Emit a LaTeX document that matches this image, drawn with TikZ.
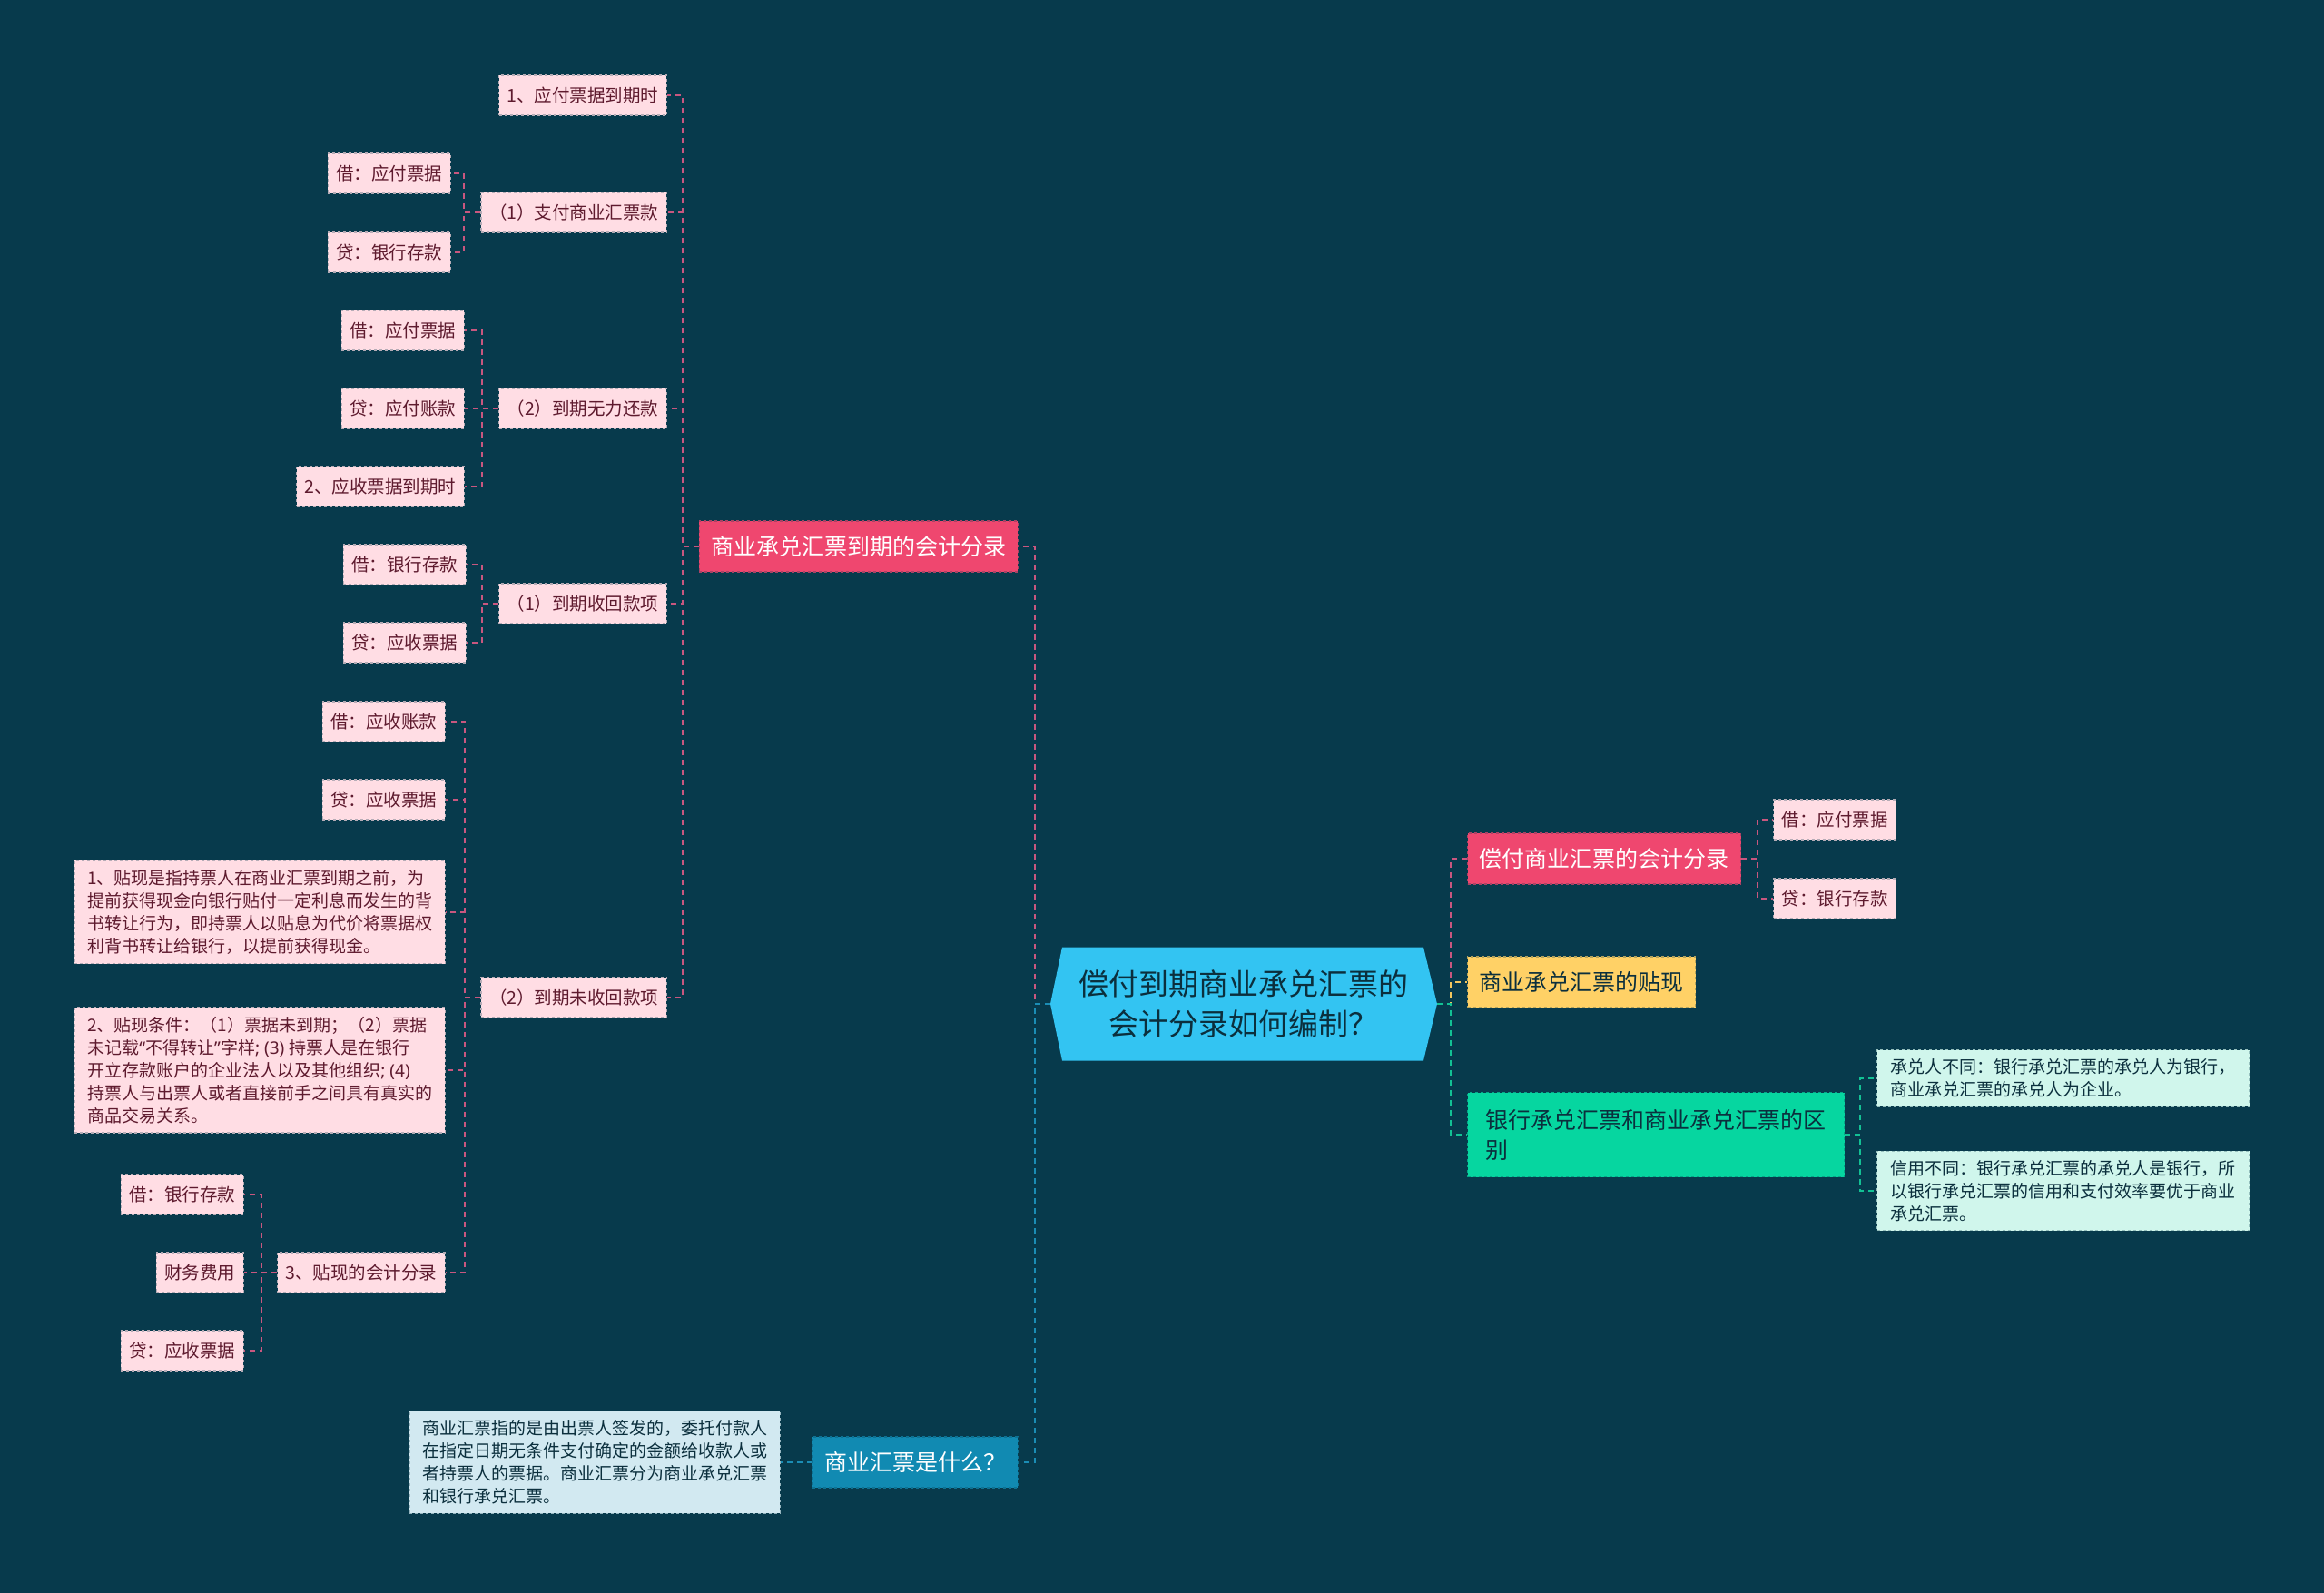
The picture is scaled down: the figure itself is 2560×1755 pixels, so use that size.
\documentclass[tikz,border=0pt]{standalone}
\usepackage{fontspec}
\setmainfont{Noto Sans CJK SC}
\newfontfamily\latf{Noto Sans}
\usepackage{tikz}
\usetikzlibrary{calc}
\definecolor{bgc}{HTML}{073A4C}
\definecolor{redc}{HTML}{EF476F}
\definecolor{yelc}{HTML}{FFD166}
\definecolor{grnc}{HTML}{06D6A0}
\definecolor{bluc}{HTML}{118AB2}
\definecolor{rootc}{HTML}{33C4F2}
\definecolor{leafc}{HTML}{FFDDE4}
\definecolor{mintc}{HTML}{D0F6EC}
\definecolor{palec}{HTML}{D2E9F1}
\definecolor{leaft}{HTML}{5E1A2E}
\definecolor{darkt}{HTML}{0B2F3D}
\definecolor{pkl}{HTML}{C9577F}
\definecolor{bll}{HTML}{1B8DB5}
\definecolor{grl}{HTML}{12C194}
\definecolor{yll}{HTML}{F2C65E}
\tikzset{
  lk/.style={line width=2pt,dash pattern=on 6pt off 5pt},
  bx/.style={rectangle,fill=#1,draw=#1!70!bgc,dashed,line width=1.2pt},
  leaf/.style={bx=leafc,text=leaft,inner xsep=9pt,inner ysep=0pt,minimum height=44pt,font=\fontsize{19.5}{25}\selectfont},
  para/.style={bx=leafc,text=leaft,inner xsep=10pt,inner ysep=10pt,align=left,minimum width=408pt,font=\fontsize{19}{25}\selectfont},
  tp/.style={bx=#1,inner xsep=13pt,inner ysep=0pt,minimum height=56pt,font=\fontsize{25}{33}\selectfont},
  root/.style={minimum width=426pt,minimum height=125pt,inner sep=0pt,fill=bgc,align=center,text=darkt,
    font=\fontsize{33}{44}\selectfont,
    path picture={\fill[rootc] (path picture bounding box.west) -- ([xshift=13pt]path picture bounding box.north west)
      -- ([xshift=-15pt]path picture bounding box.north east) -- (path picture bounding box.east)
      -- ([xshift=-15pt]path picture bounding box.south east) -- ([xshift=13pt]path picture bounding box.south west) -- cycle;}}
}
\begin{document}
\begin{tikzpicture}[x=1pt,y=-1pt]
\fill[bgc] (0,0) rectangle (2560,1755);
\useasboundingbox (0,0) rectangle (2560,1755);
\node[root] (root) at (1370,1106) {偿付到期商业承兑汇票的\\会计分录如何编制？};
\node[tp=redc,text=white,anchor=east] (rd) at (1122,602) {商业承兑汇票到期的会计分录};
\node[tp=bluc,text=white,anchor=east] (wt) at (1122,1611) {商业汇票是什么？};
\node[para,bx=palec,text=darkt,anchor=east] (wt1) at (860,1611) {商业汇票指的是由出票人签发的，委托付款人\\在指定日期无条件支付确定的金额给收款人或\\者持票人的票据。商业汇票分为商业承兑汇票\\和银行承兑汇票。};
\node[leaf,anchor=east] (p1) at (735,105) {1、应付票据到期时};
\node[leaf,anchor=east] (p2) at (735,234) {（1）支付商业汇票款};
\node[leaf,anchor=east] (p3) at (735,450) {（2）到期无力还款};
\node[leaf,anchor=east] (p4) at (735,665) {（1）到期收回款项};
\node[leaf,anchor=east] (p5) at (735,1099) {（2）到期未收回款项};
\node[leaf,anchor=east] (a1) at (497,191) {借：应付票据};
\node[leaf,anchor=east] (a2) at (497,278) {贷：银行存款};
\node[leaf,anchor=east] (b1) at (512,364) {借：应付票据};
\node[leaf,anchor=east] (b2) at (512,450) {贷：应付账款};
\node[leaf,anchor=east] (b3) at (512,536) {2、应收票据到期时};
\node[leaf,anchor=east] (c1) at (514,622) {借：银行存款};
\node[leaf,anchor=east] (c2) at (514,708) {贷：应收票据};
\node[leaf,anchor=east] (d1) at (491,795) {借：应收账款};
\node[leaf,anchor=east] (d2) at (491,881) {贷：应收票据};
\node[para,anchor=east] (d3) at (491,1005) {1、贴现是指持票人在商业汇票到期之前，为\\提前获得现金向银行贴付一定利息而发生的背\\书转让行为，即持票人以贴息为代价将票据权\\利背书转让给银行，以提前获得现金。};
\node[para,anchor=east] (d4) at (491,1179) {2、贴现条件：（1）票据未到期；（2）票据\\未记载{\latf “}不得转让{\latf ”}字样{\latf ; (3) }持票人是在银行\\开立存款账户的企业法人以及其他组织{\latf ; (4)}\\持票人与出票人或者直接前手之间具有真实的\\商品交易关系。};
\node[leaf,anchor=east] (e0) at (491,1402) {3、贴现的会计分录};
\node[leaf,anchor=east] (e1) at (269,1316) {借：银行存款};
\node[leaf,anchor=east] (e2) at (269,1402) {财务费用};
\node[leaf,anchor=east] (e3) at (269,1488) {贷：应收票据};
\node[tp=redc,text=white,anchor=west] (g) at (1616,946) {偿付商业汇票的会计分录};
\node[leaf,anchor=west] (g1) at (1953,903) {借：应付票据};
\node[leaf,anchor=west] (g2) at (1953,990) {贷：银行存款};
\node[tp=yelc,text=darkt,anchor=west] (h) at (1616,1082) {商业承兑汇票的贴现};
\node[tp=grnc,text=darkt,anchor=west,align=left,minimum width=415pt,minimum height=93pt] (k) at (1616,1250) {银行承兑汇票和商业承兑汇票的区\\别};
\node[para,bx=mintc,text=darkt,anchor=west,minimum width=410pt] (k1) at (2067,1188) {承兑人不同：银行承兑汇票的承兑人为银行，\\商业承兑汇票的承兑人为企业。};
\node[para,bx=mintc,text=darkt,anchor=west,minimum width=410pt] (k2) at (2067,1312) {信用不同：银行承兑汇票的承兑人是银行，所\\以银行承兑汇票的信用和支付效率要优于商业\\承兑汇票。};
\draw[lk,pkl] (root.west) -- ++(-17,0) |- (rd.east);
\draw[lk,bll] (root.west) -- ++(-17,0) |- (wt.east);
\draw[lk,bll] (wt.west) -- (wt1.east);
\draw[lk,pkl] (root.east) -- ++(15,0) |- (g.west);
\draw[lk,yll] (root.east) -- ++(15,0) |- (h.west);
\draw[lk,grl] (root.east) -- ++(15,0) |- (k.west);
\draw[lk,pkl] (rd.west) -- ++(-18,0) |- (p1.east);
\draw[lk,pkl] (rd.west) -- ++(-18,0) |- (p2.east);
\draw[lk,pkl] (rd.west) -- ++(-18,0) |- (p3.east);
\draw[lk,pkl] (rd.west) -- ++(-18,0) |- (p4.east);
\draw[lk,pkl] (rd.west) -- ++(-18,0) |- (p5.east);
\draw[lk,pkl] (p2.west) -- ++(-18,0) |- (a1.east);
\draw[lk,pkl] (p2.west) -- ++(-18,0) |- (a2.east);
\draw[lk,pkl] (p3.west) -- ++(-18,0) |- (b1.east);
\draw[lk,pkl] (p3.west) -- ++(-18,0) |- (b2.east);
\draw[lk,pkl] (p3.west) -- ++(-18,0) |- (b3.east);
\draw[lk,pkl] (p4.west) -- ++(-18,0) |- (c1.east);
\draw[lk,pkl] (p4.west) -- ++(-18,0) |- (c2.east);
\draw[lk,pkl] (p5.west) -- ++(-17,0) |- (d1.east);
\draw[lk,pkl] (p5.west) -- ++(-17,0) |- (d2.east);
\draw[lk,pkl] (p5.west) -- ++(-17,0) |- (d3.east);
\draw[lk,pkl] (p5.west) -- ++(-17,0) |- (d4.east);
\draw[lk,pkl] (p5.west) -- ++(-17,0) |- (e0.east);
\draw[lk,pkl] (e0.west) -- ++(-17,0) |- (e1.east);
\draw[lk,pkl] (e0.west) -- ++(-17,0) |- (e2.east);
\draw[lk,pkl] (e0.west) -- ++(-17,0) |- (e3.east);
\draw[lk,pkl] (g.east) -- ++(18,0) |- (g1.west);
\draw[lk,pkl] (g.east) -- ++(18,0) |- (g2.west);
\draw[lk,grl] (k.east) -- ++(17,0) |- (k1.west);
\draw[lk,grl] (k.east) -- ++(17,0) |- (k2.west);
\end{tikzpicture}
\end{document}
